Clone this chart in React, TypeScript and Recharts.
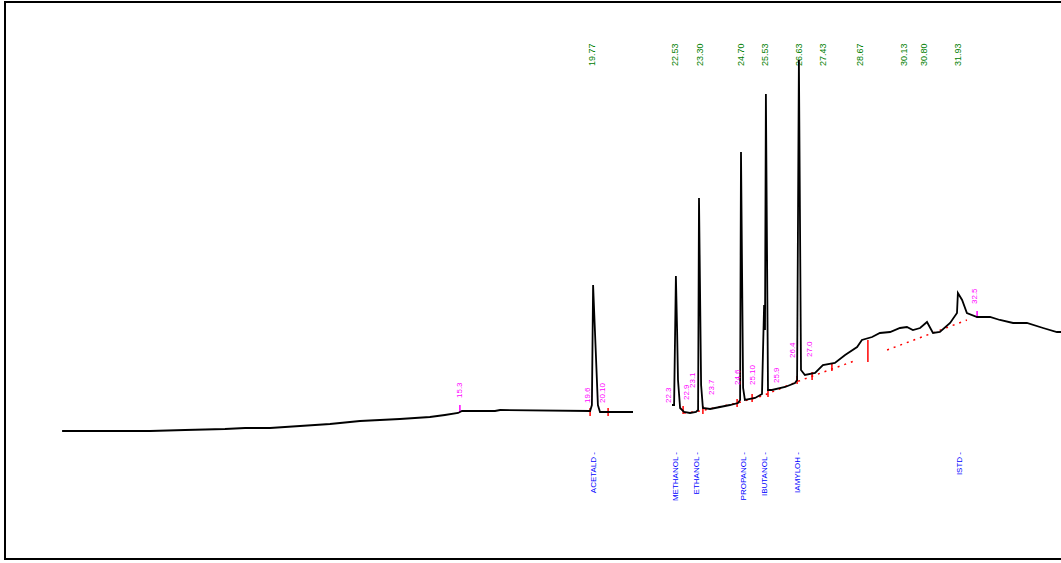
import { ComposedChart, Line, XAxis, YAxis, ReferenceLine, ReferenceDot } from 'recharts'

// detector trace, minutes vs mV (null = gap in acquisition)
const traceTime = [
  2.07, 3.33, 5.0, 6.17, 7.5, 8.17, 9.0, 10.0, 11.0, 12.0, 13.33, 14.33, 14.83, 15.27, 15.4, 16.5, 16.67,
  19.67, 19.73, 19.77, 19.87, 19.93, 20.0, 21.1, 21.5,
  22.4, 22.47, 22.53, 22.57, 22.6, 22.67, 22.8, 23.0, 23.2, 23.27, 23.3, 23.37, 23.43, 23.67, 24.0, 24.33,
  24.6, 24.67, 24.7, 24.77, 24.83, 25.17, 25.4, 25.47, 25.5, 25.53, 25.6, 25.73, 26.17, 26.5, 26.57, 26.63,
  26.7, 26.83, 27.17, 27.43, 27.83, 28.17, 28.57, 28.73, 29.07, 29.33, 29.67, 30.0, 30.23, 30.43, 30.67,
  30.9, 31.1, 31.33, 31.67, 31.9, 31.93, 32.07, 32.23, 32.57, 33.0, 33.33, 33.77, 34.23, 34.77, 35.23, 35.37,
]
const traceSignal = [
  132, 132, 132, 133, 134, 135, 135, 137, 139, 142, 144, 146, 148, 150, 152, 152, 153,
  152, 158, 278, 203, 158, 151, 151, null,
  158, 158, 287, 233, 183, 155, 151, 150, 151, 153, 365, 178, 155, 154, 156, 158,
  160, 163, 411, 175, 163, 165, 169, 258, 233, 469, 173, 173, 176, 180, 183, 503,
  193, 188, 190, 198, 200, 208, 216, 223, 226, 230, 231, 235, 236, 233, 235,
  241, 230, 231, 240, 250, 270, 263, 250, 246, 246, 243, 240, 240, 235, 231, 231,
]

// integration baseline
const baseTime = [22.8, 23.33, 24.57, 25.4, 26.63, 27.73, 28.57, 28.9, 29.57, 31.0, 32.23]
const baseSignal = [150, 152, 160, 167, 182, 194, 203, null, 213, 229, 243]

// peak start / end marks
const markTime = [19.67, 20.27, 22.77, 23.43, 24.57, 25.07, 25.6, 26.57, 27.07, 27.73, 28.93]
const markLow = [147, 147, 149, 149, 156, 161, 166, 179, 183, 192, 201]
const markHigh = [155, 155, 157, 157, 164, 169, 174, 187, 191, 200, 223]

// retention times (top)
const rtTime = [19.73, 22.5, 23.33, 24.7, 25.5, 26.63, 27.43, 28.67, 30.13, 30.8, 31.93]
const rtText = ['19.77', '22.53', '23.30', '24.70', '25.53', '26.63', '27.43', '28.67', '30.13', '30.80', '31.93']

// compound names (bottom)
const nameTime = [19.77, 22.53, 23.23, 24.77, 25.5, 26.6, 32.0]
const nameText = ['ACETALD -', 'METHANOL -', 'ETHANOL -', 'PROPANOL -', 'IBUTANOL -', 'IAMYLOH -', 'ISTD -']

// event annotations near the baseline
const evTime = [15.33, 19.57, 20.1, 22.27, 22.9, 23.1, 23.73, 24.57, 25.1, 25.9, 26.43, 27.0, 32.5]
const evSignal = [165, 160, 160, 160, 163, 175, 168, 178, 178, 180, 205, 206, 259]
const evText = ['15.3', '19.6', '20.10', '22.3', '22.9', '23.1', '23.7', '24.6', '25.10', '25.9', '26.4', '27.0', '32.5']
const evTickTime = [15.33, 32.57]
const evTickLow = [151, 245]
const evTickHigh = [158, 252]

const trace = traceTime.map((t, i) => ({ t, v: traceSignal[i] }))
const baseline = baseTime.map((t, i) => ({ t, v: baseSignal[i] }))

const FONT = '"Liberation Sans", Arial, sans-serif'

// rotated text hung off a reference element's viewBox
function vertLabel(text: string, color: string, size: number, offset: number | null, anchor: 'start' | 'end') {
  return (props: any) => {
    const vb = props.viewBox || {}
    const x = vb.x
    const y = offset == null ? vb.y : (vb.y || 0) + offset
    if (x == null || y == null) return null
    return (
      <text
        x={x}
        y={y}
        transform={`rotate(-90 ${x} ${y})`}
        fill={color}
        fontSize={size}
        fontFamily={FONT}
        dominantBaseline="central"
        textAnchor={anchor}
      >
        {text}
      </text>
    )
  }
}

export default function App() {
  return (
    <div
      style={{
        position: 'absolute',
        left: 0,
        top: 0,
        width: 1061,
        height: 563,
        overflow: 'hidden',
        background: '#fff',
      }}
    >
      <div style={{ position: 'absolute', left: 0, top: 0 }}>
        <ComposedChart width={1061} height={563} margin={{ top: 0, right: 0, bottom: 0, left: 0 }}>
          <XAxis type="number" dataKey="t" domain={[0, 35.3667]} hide allowDataOverflow />
          <YAxis type="number" domain={[0, 563]} hide allowDataOverflow />

          {rtTime.map((t, i) => (
            <ReferenceLine
              key={'rt' + i}
              x={t}
              stroke="none"
              label={vertLabel(rtText[i], '#008000', 9, 66, 'start')}
            />
          ))}
          {nameTime.map((t, i) => (
            <ReferenceLine
              key={'nm' + i}
              x={t}
              stroke="none"
              label={vertLabel(nameText[i], '#0000ff', 8, 452, 'end')}
            />
          ))}

          <Line
            data={baseline}
            dataKey="v"
            type="linear"
            stroke="#ff0000"
            strokeWidth={1.5}
            strokeDasharray="2 5"
            dot={false}
            activeDot={false}
            connectNulls={false}
            isAnimationActive={false}
          />
          {markTime.map((t, i) => (
            <ReferenceLine
              key={'mk' + i}
              segment={[
                { x: t, y: markLow[i] },
                { x: t, y: markHigh[i] },
              ]}
              stroke="#ff0000"
              strokeWidth={1.5}
            />
          ))}
          {evTickTime.map((t, i) => (
            <ReferenceLine
              key={'et' + i}
              segment={[
                { x: t, y: evTickLow[i] },
                { x: t, y: evTickHigh[i] },
              ]}
              stroke="#ff00ff"
              strokeWidth={1.5}
            />
          ))}
          <Line
            data={trace}
            dataKey="v"
            type="linear"
            stroke="#000"
            strokeWidth={1.8}
            dot={false}
            activeDot={false}
            connectNulls={false}
            isAnimationActive={false}
          />
          {evTime.map((t, i) => (
            <ReferenceDot
              key={'ev' + i}
              x={t}
              y={evSignal[i]}
              r={0}
              fill="none"
              stroke="none"
              label={vertLabel(evText[i], '#ff00ff', 8, null, 'start')}
            />
          ))}
        </ComposedChart>
      </div>
      <div
        style={{
          position: 'absolute',
          left: 4,
          top: 1,
          width: 1100,
          height: 559,
          boxSizing: 'border-box',
          borderLeft: '2px solid #000',
          borderTop: '2px solid #000',
          borderBottom: '2px solid #000',
          pointerEvents: 'none',
        }}
      />
    </div>
  )
}
